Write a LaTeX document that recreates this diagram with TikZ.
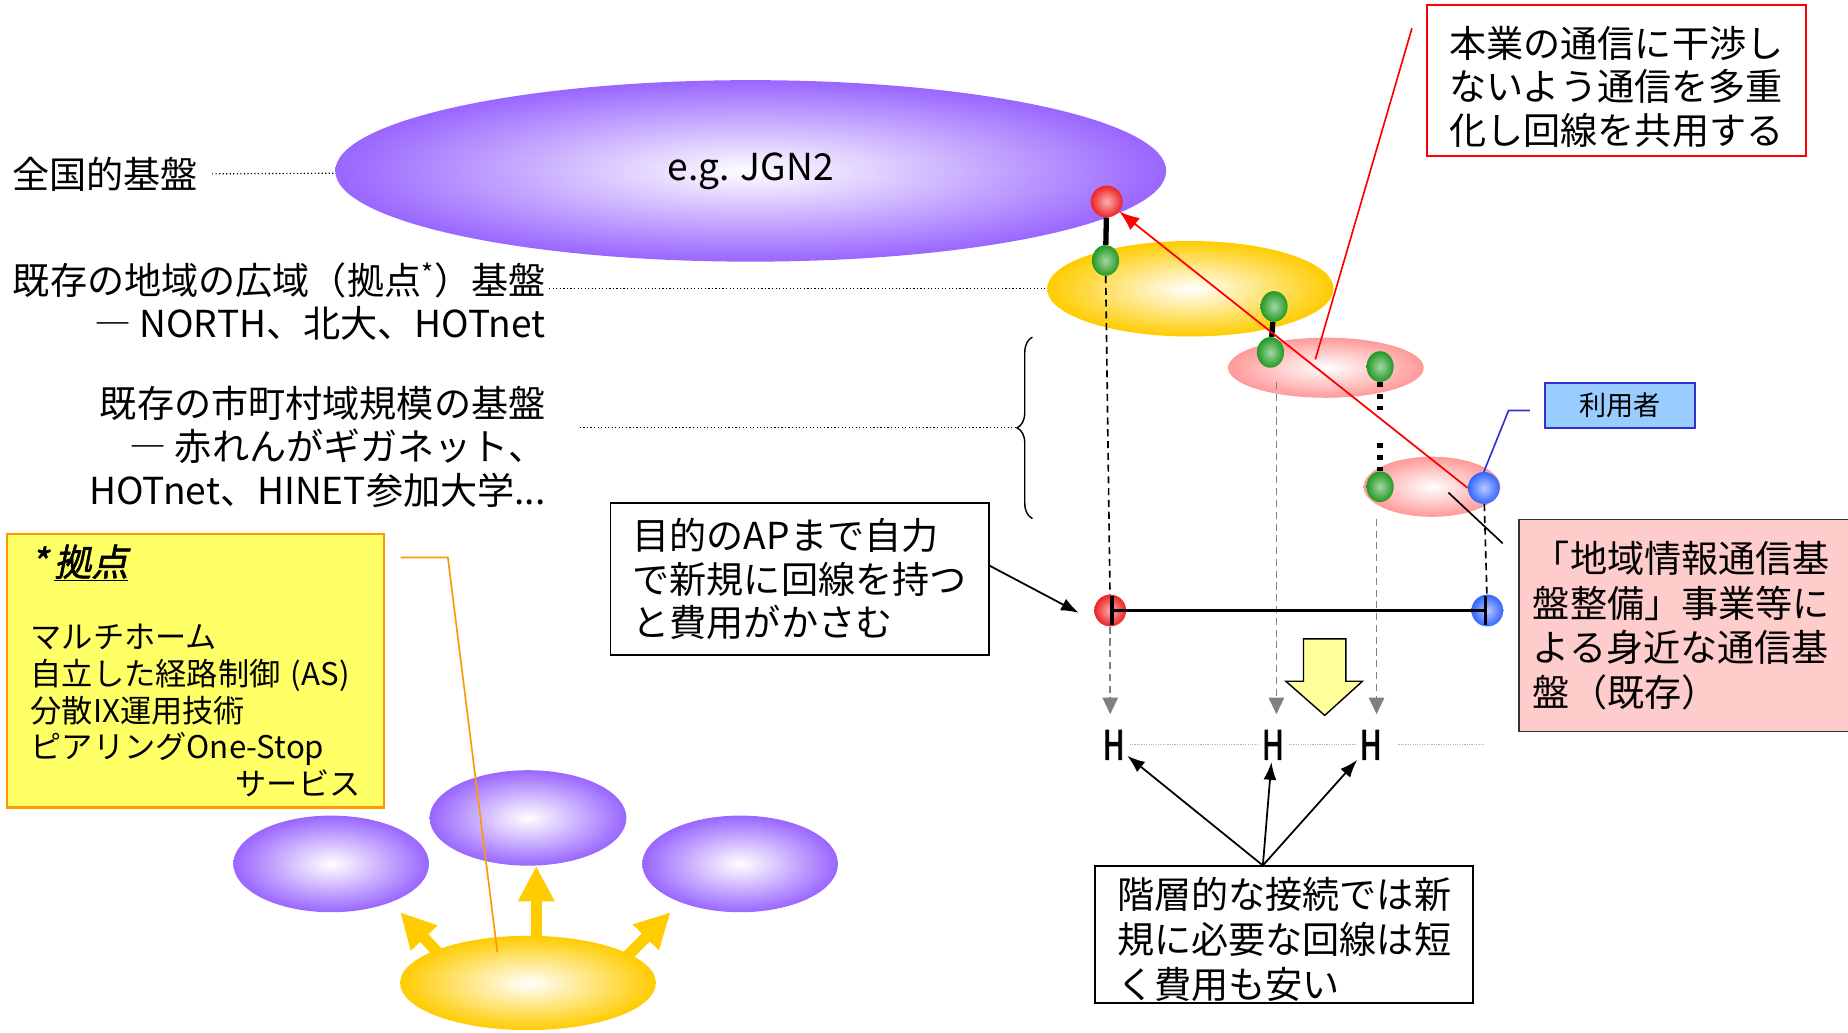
\documentclass[tikz,border=0pt]{standalone}
\usepackage{fontspec}
\setmainfont{Noto Sans CJK JP}
\newfontfamily\hfont[FakeBold=3]{Noto Sans CJK JP}
\newfontfamily\kyofont[FakeBold=1.5,FakeSlant=0.2]{Noto Sans CJK JP}
\usepackage{tikz}
\usetikzlibrary{shapes,arrows,arrows.meta,positioning,calc,decorations.pathreplacing}
\definecolor{netpurple}{HTML}{9966FF}
\definecolor{hubyellow}{HTML}{FFCC00}
\definecolor{citypink}{HTML}{FF9999}
\definecolor{ballred}{HTML}{EE2222}
\definecolor{ballgreen}{HTML}{229922}
\definecolor{ballblue}{HTML}{3366FF}
\definecolor{userblue}{HTML}{99CCFF}
\definecolor{userline}{HTML}{3333CC}
\definecolor{notepink}{HTML}{FFCCCC}
\definecolor{noteyellow}{HTML}{FFFF66}
\definecolor{noteorange}{HTML}{FF9900}
\definecolor{downyellow}{HTML}{FFFF99}
\newcommand\jpn{\fontsize{31.5}{37}\selectfont}
\newcommand\jpnw{\fontsize{31.5}{38}\selectfont}
\tikzset{
net/.style = {ellipse, inner sep=0pt, inner color=white, outer color=#1},
ap/.style = {circle, inner sep=0pt, minimum size=27pt, inner color=#1!35!white, outer color=#1},
apg/.style = {ellipse, inner sep=0pt, minimum width=23pt, minimum height=26pt, inner color=ballgreen!40!white, outer color=ballgreen},
lbl/.style = {font=\jpn, inner sep=0pt},
note/.style = {draw, fill=white, line width=1.4pt, align=left, font=\jpn, inner sep=0pt},
hlbl/.style = {font=\hfont\fontsize{34}{34}\selectfont, inner sep=2pt},
leader/.style = {dotted, line width=1pt},
hdot/.style = {densely dotted, black!30, line width=1pt, shorten <=2pt, shorten >=2pt},
link/.style = {line width=4.5pt},
vdash/.style = {dash pattern=on 6pt off 4pt, line width=1.4pt},
gdash/.style = {vdash, gray, -{Triangle[width=13pt,length=14pt]}},
fat/.style = {line width=9.5pt, hubyellow, -{Triangle[width=29pt,length=30pt]}},
callout/.style = {line width=1.4pt}
}
\begin{document}
\begin{tikzpicture}[x=1pt, y=-1pt, >={Latex[length=15pt,width=11pt]}]
	\useasboundingbox (0,0) rectangle (1568,876);
	\node[net=netpurple, minimum width=705pt, minimum height=154pt, font=\jpn] (jgn) at (637,145) {e.g. JGN2};
	\node[net=hubyellow, minimum width=243pt, minimum height=81pt] (hub) at (1010,245) {};
	\node[net=citypink, minimum width=166pt, minimum height=51pt] (city1) at (1125,312) {};
	\node[net=citypink, minimum width=116pt, minimum height=51pt] (city2) at (1215,413) {};
	\node[net=netpurple, minimum width=166pt, minimum height=82pt] (asL) at (281,733) {};
	\node[net=netpurple, minimum width=167pt, minimum height=81pt] (asM) at (448,694) {};
	\node[net=netpurple, minimum width=166pt, minimum height=82pt] (asR) at (628,733) {};
	\coordinate (tailL) at (375,812);
	\coordinate (tipL) at (339.5,774);
	\coordinate (tailM) at (455,800);
	\coordinate (tailR) at (531.5,812);
	\coordinate (tipR) at (569,774);
	\draw[fat] (tailL) -- (tipL);
	\draw[fat] (tailM) -- (tailM |- asM.south);
	\draw[fat] (tailR) -- (tipR);
	\node[net=hubyellow, minimum width=217pt, minimum height=80pt] (kyobase) at (448,834) {};

	\node[lbl, anchor=west] (natl) at (10,148) {全国的基盤};
	\node[lbl, anchor=east, align=right] (pref) at (463,256) {既存の地域の広域（拠点\textsuperscript{*}）基盤\\― NORTH、北大、HOTnet};
	\node[lbl, anchor=east, align=right] (muni) at (463,379) {既存の市町村域規模の基盤\\― 赤れんがギガネット、\\HOTnet、HINET参加大学...};
	\coordinate (brtip) at (862,363);
	\draw[leader, shorten <=12pt] (natl) -- (jgn);
	\draw[leader, shorten <=3pt] (pref.east |- hub.west) -- (hub.west);
	\draw[leader, shorten <=29pt] (muni.east |- brtip) -- (brtip);
	\draw[decorate, decoration={brace, amplitude=13pt}, line width=1.2pt] (876,440) -- (876,286);

	\node[note, draw=red, line width=1.8pt, minimum width=321pt, minimum height=128pt, text height=112pt] (rbox) at (1371.5,68) {本業の通信に干渉し\\ないよう通信を多重\\化し回線を共用する};
	\node[draw=userline, fill=userblue, line width=1.5pt, minimum width=127pt, minimum height=38pt, font=\fontsize{23}{27}\selectfont] (user) at (1374.5,344) {利用者};
	\node[note, fill=notepink, draw=black!80, font=\jpnw, anchor=north west, text width=268pt, inner xsep=12pt, minimum height=180pt] (pbox) at (1288,440) {「地域情報通信基\\盤整備」事業等に\\よる身近な通信基\\盤（既存）};
	\node[note, minimum width=321pt, minimum height=129pt] (apbox) at (678.5,491.5) {目的のAPまで自力\\で新規に回線を持つ\\と費用がかさむ};
	\node[note, font=\jpnw, minimum width=321pt, minimum height=116pt, text height=111pt] (hbox) at (1089.5,793) {階層的な接続では新\\規に必要な回線は短\\く費用も安い};
	\node[note, fill=noteyellow, draw=noteorange, line width=2pt, anchor=north west, text width=280pt, inner xsep=20pt, minimum height=232pt, font=\fontsize{26.5}{31}\selectfont] (kyo) at (5,452) {{\kyofont\fontsize{31.5}{31}\selectfont *\,\underline{拠点}}\\[31pt]マルチホーム\\自立した経路制御 (AS)\\分散IX運用技術\\ピアリングOne-Stop\\\hfill サービス\hspace*{26pt}};

	\node[ap=ballred] (red1) at (939,171) {};
	\node[apg] (g1) at (938,221) {};
	\node[apg] (g2) at (1081,260) {};
	\node[apg] (g3) at (1078,299) {};
	\node[apg] (g4) at (1171,311) {};
	\node[apg] (g5) at (1171,413) {};
	\node[ap=ballblue] (blue1) at (1259,414) {};
	\node[ap=ballred] (redS) at (942,518) {};
	\node[ap=ballblue] (blueS) at (1262,518) {};

	\node[hlbl] (h1) at (945,632) {\scalebox{0.75}[1]{H}};
	\node[hlbl] (h2) at (1080,632) {\scalebox{0.75}[1]{H}};
	\node[hlbl] (h3) at (1163,632) {\scalebox{0.75}[1]{H}};
	\coordinate (t1) at (942,606);
	\coordinate (t2) at (1083,606);
	\coordinate (t3) at (1168,606);

	\draw[link] (red1) -- (g1);
	\draw[link] (g2) -- (g3);
	\draw[link, dash pattern=on 4pt off 6pt on 4pt off 6pt on 4pt off 28pt on 4pt off 6pt on 4pt off 6pt on 4pt off 100pt] (g4) -- (g5);
	\draw[vdash] (g1) -- (redS);
	\draw[vdash] (blue1) -- (blueS);
	\draw[gdash] (redS) -- (t1);
	\draw[gdash] ([xshift=5pt,yshift=-12pt]g3.south) -- (t2);
	\draw[gdash] ([xshift=-3pt,yshift=-14pt]g5.south) -- (t3);
	\draw[line width=3pt, {Bar[width=25pt]}-{Bar[width=25pt]}] (redS.center) -- (blueS.center);
	\draw[fill=downyellow, line width=1.2pt] (1106,542) -- (1142,542) -- (1142,578) -- (1156,578) -- (1124,607) -- (1091,578) -- (1106,578) -- cycle;

	\draw[hdot] (h1) -- (h2);
	\draw[hdot] (h2) -- (h3);
	\draw[hdot] ([xshift=10pt]h3.east) -- ++(77,0);
	\draw[->, line width=1.5pt] ([xshift=-18pt]hbox.north) -- (h1);
	\draw[->, line width=1.5pt] ([xshift=-18pt]hbox.north) -- (h2);
	\draw[->, line width=1.5pt] ([xshift=-18pt]hbox.north) -- (h3);
	\draw[->, line width=1.5pt] ([yshift=11.5pt]apbox.east) -- ([xshift=-13pt,yshift=-2pt]redS.west);

	\draw[red, line width=1.5pt, -{Latex[length=17pt,width=13pt]}] (blue1.west) -- (red1);
	\draw[callout, red] ([shift={(-9,-7)}]city1.center) -- ++(82,-281);
	\draw[callout] ([shift={(14,5)}]city2.center) -- ++(46,43);
	\draw[callout, userline] (blue1.north) -- ++(21,-52) -- ++(18,0);
	\draw[callout, noteorange] ([shift={(13,21)}]kyo.north east) -- ++(40,0) -- ++(42,335);
\end{tikzpicture}
\end{document}
